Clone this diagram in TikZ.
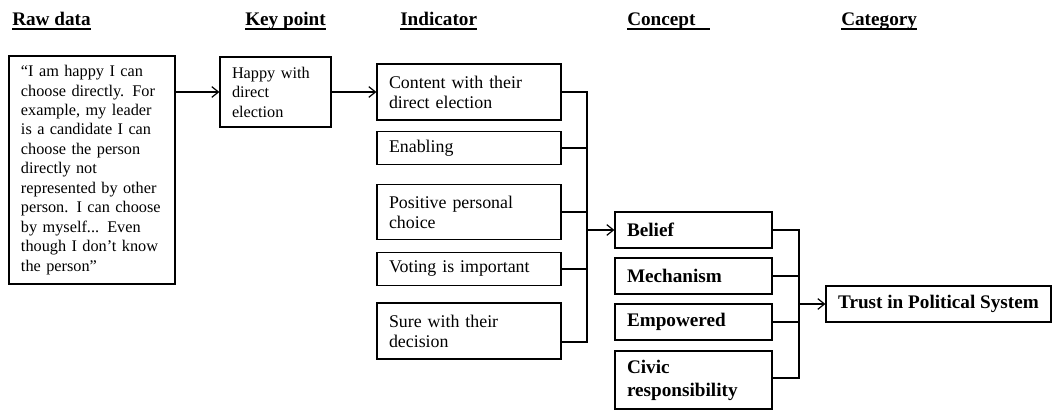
\documentclass[tikz,border=0pt]{standalone}
\usepackage{fontspec}
\setmainfont{Liberation Serif}
\usetikzlibrary{arrows.meta}
\begin{document}
\begin{tikzpicture}[x=0.75pt,y=-0.75pt,
    box/.style={draw, line width=0.9pt, inner xsep=9pt, inner ysep=0pt, align=left},
    rawbox/.style={box, font=\fontsize{12.2}{14.6}\selectfont},
    indbox/.style={box, text width=120pt, font=\fontsize{13.4}{15}\selectfont},
    conbox/.style={box, text width=99.75pt, minimum height=27pt, font=\fontsize{14.4}{17.3}\selectfont\bfseries},
    head/.style={inner sep=0pt, anchor=base west, font=\fontsize{14.4}{17.3}\selectfont\bfseries},
    uline/.style={line width=0.9pt},
    arr/.style={line width=0.9pt, -{Straight Barb[length=5pt,width=8pt]}},
    link/.style={line width=0.9pt}]
    \useasboundingbox (0,0) rectangle (1053,412);

    % headings
    \node[head] (hraw) at (12,25) {Raw data};
    \node[head] (hkey) at (245,25) {Key point};
    \node[head] (hind) at (400,25) {Indicator};
    \node[head] (hcon) at (627,25) {Concept\hspace*{10.5pt}};
    \node[head] (hcat) at (841,25) {Category};
    \foreach \h in {hraw,hkey,hind,hcon,hcat}
        \draw[uline] ([yshift=-3pt]\h.base west) -- ([yshift=-3pt]\h.base east);

    % raw data and key point
    \node[rawbox, text width=106.5pt, minimum height=171pt] (raw) at (92,170)
        {“I am happy I can\\ choose directly. For\\ example, my leader\\ is a candidate I can\\
         choose the person\\ directly not\\ represented by other\\ person. I can choose\\
         by myself... Even\\ though I don’t know\\ the person”};
    \node[rawbox, text width=65.25pt, minimum height=52.5pt] (key) at (275.5,92)
        {Happy with\\ direct\\ election};

    % indicators
    \node[indbox, minimum height=42pt] (ind1) at (469,92) {Content with their\\ direct election};
    \node[indbox, minimum height=25pt] (ind2) at (469,148) {Enabling};
    \node[indbox, minimum height=41pt] (ind3) at (469,212) {Positive personal\\ choice};
    \node[indbox, minimum height=25pt] (ind4) at (469,269) {Voting is important};
    \node[indbox, minimum height=42pt] (ind5) at (469,331) {Sure with their\\ decision};

    % concepts
    \node[conbox] (belief) at (693.5,230) {Belief};
    \node[conbox] (mech) at (693.5,276) {Mechanism};
    \node[conbox] (emp) at (693.5,322) {Empowered};
    \node[conbox, minimum height=43.5pt] (civic) at (693.5,380) {Civic\\ responsibility};

    % category
    \node[box, minimum width=168.75pt, minimum height=27pt, font=\fontsize{14.4}{17.3}\selectfont\bfseries]
        (trust) at (938.5,304) {Trust in Political System};

    \coordinate (busA) at (587,0);
    \coordinate (busB) at (799,0);

    \draw[arr] (raw.east |- key) -- (key);
    \draw[arr] (key) -- (ind1);
    \foreach \i in {ind1,ind2,ind3,ind4}
        \draw[link] (\i.east) -| (busA |- belief);
    \draw[link] ([yshift=-8.25pt]ind5.east) -| (busA |- belief);
    \draw[arr] (busA |- belief) -- (belief);
    \foreach \c in {belief,mech,emp}
        \draw[link] (\c.east) -| (busB |- trust);
    \draw[link] ([yshift=1.5pt]civic.east) -| (busB |- trust);
    \draw[arr] (busB |- trust) -- (trust);
\end{tikzpicture}
\end{document}
